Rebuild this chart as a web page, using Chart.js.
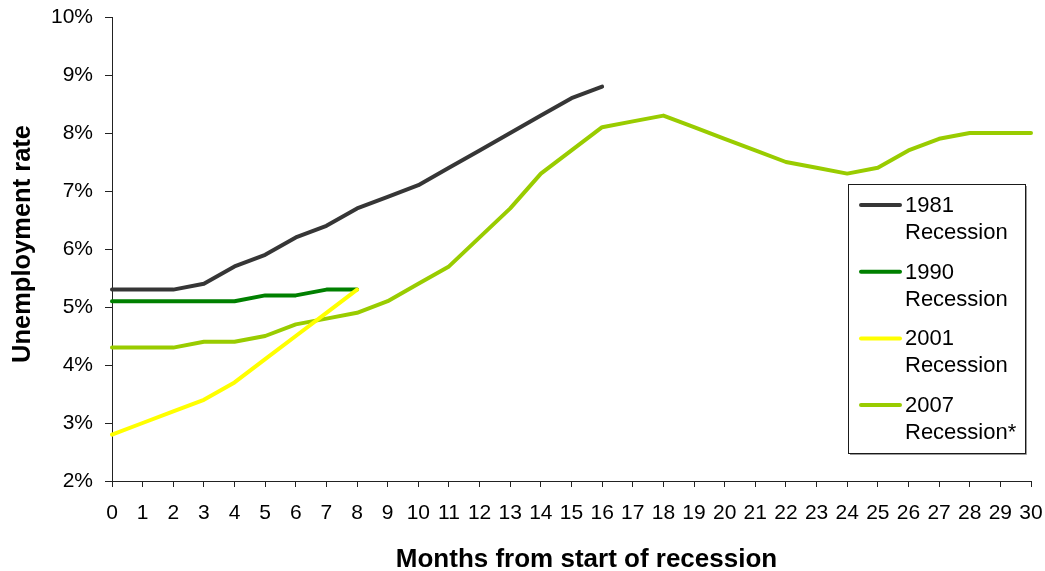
<!DOCTYPE html>
<html>
<head>
<meta charset="utf-8">
<script src="https://cdn.jsdelivr.net/npm/chart.js@4/dist/chart.umd.min.js"></script>
<style>
  html, body { margin: 0; padding: 0; background: #ffffff; }
  #wrap { width: 1045px; height: 571px; }
</style>
</head>
<body>
<div id="wrap"><canvas id="c" width="1045" height="571"></canvas></div>
<script>
// Months from the start of each recession (x axis categories)
const months = ['0','1','2','3','4','5','6','7','8','9','10','11','12','13','14','15',
                '16','17','18','19','20','21','22','23','24','25','26','27','28','29','30'];

// Unemployment rate (%) by month after the start of each recession
const rec1981 = [5.3, 5.3, 5.3, 5.4, 5.7, 5.9, 6.2, 6.4, 6.7, 6.9, 7.1, 7.4, 7.7, 8.0, 8.3, 8.6, 8.8];
const rec1990 = [5.1, 5.1, 5.1, 5.1, 5.1, 5.2, 5.2, 5.3, 5.3];
const rec2001 = [2.8, 3.0, 3.2, 3.4, 3.7, 4.1, 4.5, 4.9, 5.3];
const rec2007 = [4.3, 4.3, 4.3, 4.4, 4.4, 4.5, 4.7, 4.8, 4.9, 5.1, 5.4, 5.7, 6.2, 6.7, 7.3, 7.7,
                 8.1, 8.2, 8.3, 8.1, 7.9, 7.7, 7.5, 7.4, 7.3, 7.4, 7.7, 7.9, 8.0, 8.0, 8.0];

const seriesNames = ['1981 Recession', '1990 Recession', '2001 Recession', '2007 Recession*'];
const seriesColors = ['#363636', '#008000', '#ffff00', '#99cc00'];

// Y axis tick values (percent)
const yTicks = [2, 3, 4, 5, 6, 7, 8, 9, 10];

const xTitle = 'Months from start of recession';
const yTitle = 'Unemployment rate';

const FONT = "'Liberation Sans', Arial, sans-serif";

// Axis titles, placed relative to the plot area
const axisTitles = {
  id: 'axisTitles',
  afterDraw(chart) {
    const ctx = chart.ctx;
    const a = chart.chartArea;
    ctx.save();
    ctx.fillStyle = '#000000';
    ctx.textAlign = 'center';
    ctx.textBaseline = 'middle';
    ctx.font = 'bold 26px ' + FONT;
    ctx.fillText(xTitle, (a.left + a.right) / 2 + 15, a.bottom + 79);
    ctx.translate(a.left - 89, (a.top + a.bottom) / 2 - 5);
    ctx.rotate(-Math.PI / 2);
    ctx.font = 'bold 25.5px ' + FONT;
    ctx.fillText(yTitle, 0, 0);
    ctx.restore();
  }
};

// Boxed legend with two-line labels, drawn inside the plot area
const boxLegend = {
  id: 'boxLegend',
  afterDraw(chart) {
    const ctx = chart.ctx;
    const area = chart.chartArea;
    const w = 177, h = 269;
    const x0 = area.right - 6 - w;
    const y0 = area.top + 167;
    ctx.save();
    // light drop shadow on right/bottom edges
    ctx.strokeStyle = '#9a9a9a';
    ctx.lineWidth = 1;
    ctx.beginPath();
    ctx.moveTo(x0 + w + 1.5, y0 + 2);
    ctx.lineTo(x0 + w + 1.5, y0 + h + 1.5);
    ctx.lineTo(x0 + 2, y0 + h + 1.5);
    ctx.stroke();
    ctx.fillStyle = '#ffffff';
    ctx.fillRect(x0, y0, w, h);
    ctx.strokeStyle = '#1a1a1a';
    ctx.strokeRect(x0 + 0.5, y0 + 0.5, w, h);

    ctx.font = '22px ' + FONT;
    ctx.textBaseline = 'middle';
    ctx.textAlign = 'left';
    chart.data.datasets.forEach((ds, i) => {
      const cy = y0 + 21 + i * 66.7;
      ctx.strokeStyle = ds.borderColor;
      ctx.lineWidth = 4;
      ctx.lineCap = 'round';
      ctx.beginPath();
      ctx.moveTo(x0 + 13, cy);
      ctx.lineTo(x0 + 52, cy);
      ctx.stroke();
      const parts = ds.label.split(' ');
      ctx.fillStyle = '#000000';
      ctx.fillText(parts[0], x0 + 57, cy + 1);
      ctx.fillText(parts.slice(1).join(' '), x0 + 57, cy + 28);
    });
    ctx.restore();
  }
};

const series = [rec1981, rec1990, rec2001, rec2007];
const drawOrder = [1, 3, 2, 4];

new Chart(document.getElementById('c'), {
  type: 'line',
  data: {
    labels: months,
    datasets: series.map((vals, i) => ({
      label: seriesNames[i],
      data: vals,
      borderColor: seriesColors[i],
      backgroundColor: seriesColors[i],
      borderWidth: 4,
      pointRadius: 0,
      pointHoverRadius: 0,
      tension: 0,
      fill: false,
      borderJoinStyle: 'round',
      borderCapStyle: 'round',
      order: drawOrder[i]
    }))
  },
  options: {
    responsive: false,
    animation: false,
    events: [],
    layout: { padding: { top: 17, right: 14, left: 0, bottom: 0 } },
    plugins: {
      legend: { display: false },
      tooltip: { enabled: false }
    },
    scales: {
      x: {
        type: 'category',
        offset: false,
        grid: {
          display: true,
          drawOnChartArea: false,
          drawTicks: true,
          tickLength: 6,
          color: '#222222',
          lineWidth: 1
        },
        border: { display: true, color: '#222222', width: 1 },
        ticks: {
          autoSkip: false,
          maxRotation: 0,
          minRotation: 0,
          padding: 14,
          color: '#000000',
          font: { family: FONT, size: 21 }
        },
        afterFit(scale) {
          scale.height = 90;
          scale.paddingLeft = 0;
          scale.paddingRight = 0;
        }
      },
      y: {
        type: 'linear',
        min: yTicks[0],
        max: yTicks[yTicks.length - 1],
        afterBuildTicks(scale) { scale.ticks = yTicks.map(v => ({ value: v })); },
        grid: {
          display: true,
          drawOnChartArea: false,
          drawTicks: true,
          tickLength: 7,
          color: '#222222',
          lineWidth: 1
        },
        border: { display: true, color: '#222222', width: 1 },
        ticks: {
          padding: 12,
          color: '#000000',
          font: { family: FONT, size: 21 },
          callback: v => v + '%'
        },
        afterFit(scale) {
          scale.width = 112;
          scale.paddingTop = 0;
          scale.paddingBottom = 0;
        }
      }
    }
  },
  plugins: [axisTitles, boxLegend]
});
</script>
</body>
</html>
